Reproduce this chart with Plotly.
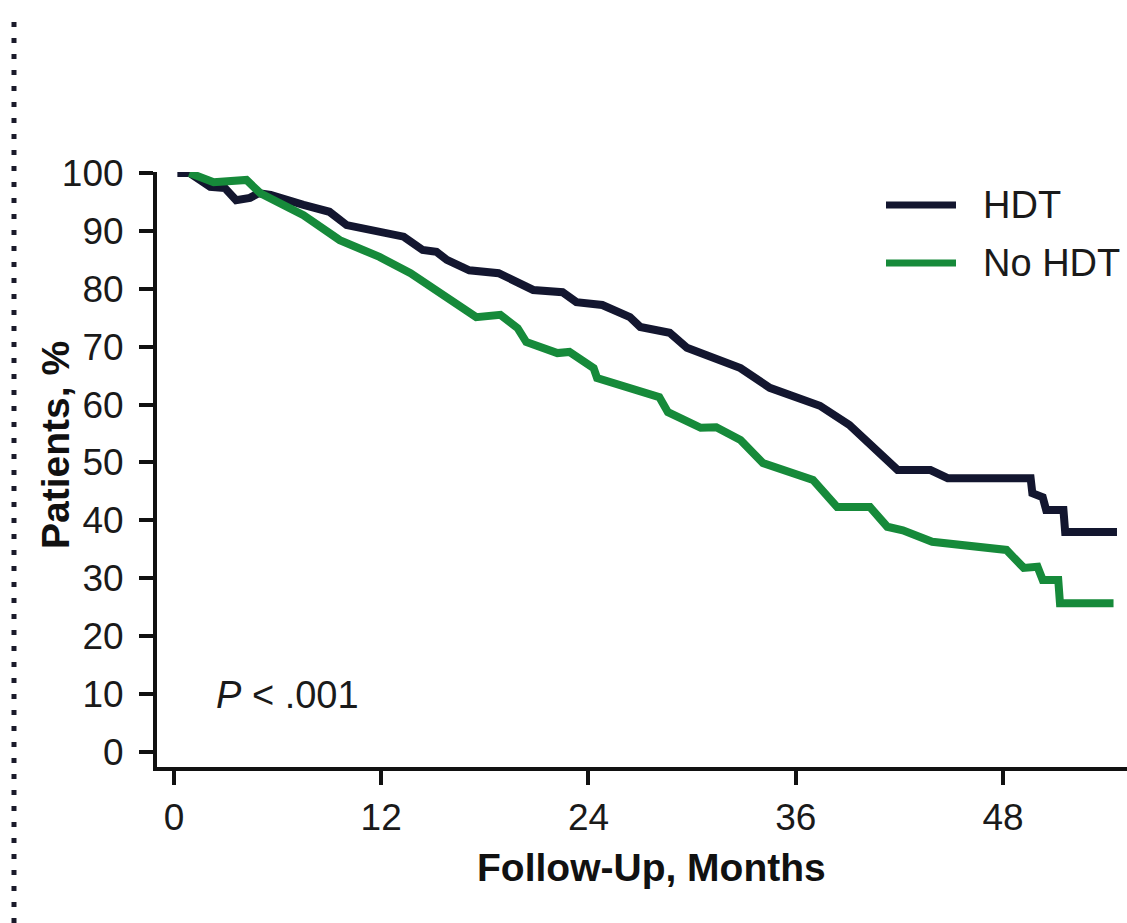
import plotly.graph_objects as go

# ---- data ----
hdt_months = [0.2, 0.9, 2.1, 2.95, 3.6, 4.4, 4.9, 5.6, 7.5, 9.0, 10.0, 11.3, 13.3, 14.4, 15.2, 15.8,
              17.1, 18.8, 20.8, 22.5, 23.3, 24.8, 26.4, 27.0, 28.7, 29.7, 32.8, 34.5, 37.4, 39.1,
              41.9, 43.8, 44.8, 49.6, 49.7, 50.3, 50.5, 51.5, 51.6, 54.6]
hdt_pct = [100, 100, 97.6, 97.4, 95.3, 95.7, 96.5, 96.2, 94.5, 93.3, 91.0, 90.2, 89.0, 86.7, 86.4, 85.0,
           83.2, 82.7, 79.8, 79.4, 77.7, 77.2, 75.1, 73.4, 72.4, 69.8, 66.3, 62.9, 59.8, 56.5,
           48.7, 48.7, 47.3, 47.3, 44.7, 44.0, 41.8, 41.8, 38.0, 38.0]

nohdt_months = [0.9, 2.3, 4.2, 5.0, 7.5, 9.6, 11.9, 13.7, 17.5, 18.9, 19.9, 20.4, 22.2, 22.9, 24.3,
                24.5, 28.1, 28.6, 30.5, 31.4, 32.8, 34.1, 37.0, 38.4, 40.3, 41.3, 42.2, 43.9, 48.2,
                49.2, 50.0, 50.3, 51.2, 51.3, 54.4]
nohdt_pct = [100, 98.4, 98.8, 96.5, 92.7, 88.4, 85.5, 82.7, 75.1, 75.5, 73.2, 70.8, 68.9, 69.1, 66.3,
             64.6, 61.3, 58.7, 56.0, 56.1, 53.9, 49.9, 47.0, 42.3, 42.3, 38.9, 38.3, 36.3, 34.9,
             31.8, 32.0, 29.7, 29.7, 25.7, 25.7]

series_names = ["HDT", "No HDT"]
x_ticks = [0, 12, 24, 36, 48]
y_ticks = [0, 10, 20, 30, 40, 50, 60, 70, 80, 90, 100]
x_title = "Follow-Up, Months"
y_title = "Patients, %"
p_text = "<i>P</i> < .001"

DARK = "#13162f"
GREEN = "#168a3a"
FONT = "Liberation Sans, Arial, sans-serif"

fig = go.Figure()
fig.add_trace(go.Scatter(x=hdt_months, y=hdt_pct, mode="lines", name=series_names[0],
                         line=dict(color=DARK, width=8), cliponaxis=False, showlegend=False))
fig.add_trace(go.Scatter(x=nohdt_months, y=nohdt_pct, mode="lines", name=series_names[1],
                         line=dict(color=GREEN, width=8), cliponaxis=False, showlegend=False))

axis_common = dict(showgrid=False, zeroline=False, showline=True, linecolor="#111111", linewidth=4,
                   ticks="outside", ticklen=14, tickwidth=4, tickcolor="#111111",
                   tickfont=dict(family=FONT, size=37, color="#1a1a1a"))

fig.update_xaxes(range=[-0.98, 55.18], tickvals=x_ticks, ticktext=[str(v) for v in x_ticks],
                 ticklabelstandoff=1, **axis_common)
fig.update_yaxes(range=[-2.59, 100.17], tickvals=y_ticks, ticktext=[str(v) for v in y_ticks],
                 ticklabelstandoff=8, **axis_common)

W, H = 1127, 923
L, R, T, B = 157, 0, 172, 156
pw, ph = W - L - R, H - T - B


def px_x(p):
    return (p - L) / pw


def px_y(p):
    return (H - B - p) / ph


# legend drawn manually (long line keys like the reference)
legend_items = [(series_names[0], DARK, 205), (series_names[1], GREEN, 263)]
for name, col, yy in legend_items:
    fig.add_shape(type="line", xref="paper", yref="paper",
                  x0=px_x(886), x1=px_x(956), y0=px_y(yy), y1=px_y(yy),
                  line=dict(color=col, width=7))
    fig.add_annotation(text=name, xref="paper", yref="paper", x=px_x(981), y=px_y(yy),
                       xanchor="left", yanchor="middle", showarrow=False,
                       font=dict(family=FONT, size=38, color="#1a1a1a"))

# dotted separator on the left edge
fig.add_shape(type="line", xref="paper", yref="paper",
              x0=px_x(14), x1=px_x(14), y0=px_y(22), y1=px_y(925),
              line=dict(color="#1a1a2a", width=5, dash="5px,11px"))

# axis titles
fig.add_annotation(text=f"<b>{y_title}</b>", xref="paper", yref="paper", x=px_x(55), y=px_y(445),
                   textangle=-90, showarrow=False, xanchor="center", yanchor="middle",
                   font=dict(family=FONT, size=39, color="#111111"))
fig.add_annotation(text=f"<b>{x_title}</b>", xref="paper", yref="paper", x=px_x(651), y=px_y(867),
                   showarrow=False, xanchor="center", yanchor="middle",
                   font=dict(family=FONT, size=39, color="#111111"))

# p-value
fig.add_annotation(text=p_text, xref="paper", yref="paper", x=px_x(214), y=px_y(695),
                   showarrow=False, xanchor="left", yanchor="middle",
                   font=dict(family=FONT, size=38, color="#1a1a1a"))

fig.update_layout(width=W, height=H, margin=dict(l=L, r=R, t=T, b=B, pad=0),
                  paper_bgcolor="white", plot_bgcolor="white", showlegend=False)

fig.write_html("out.html")
